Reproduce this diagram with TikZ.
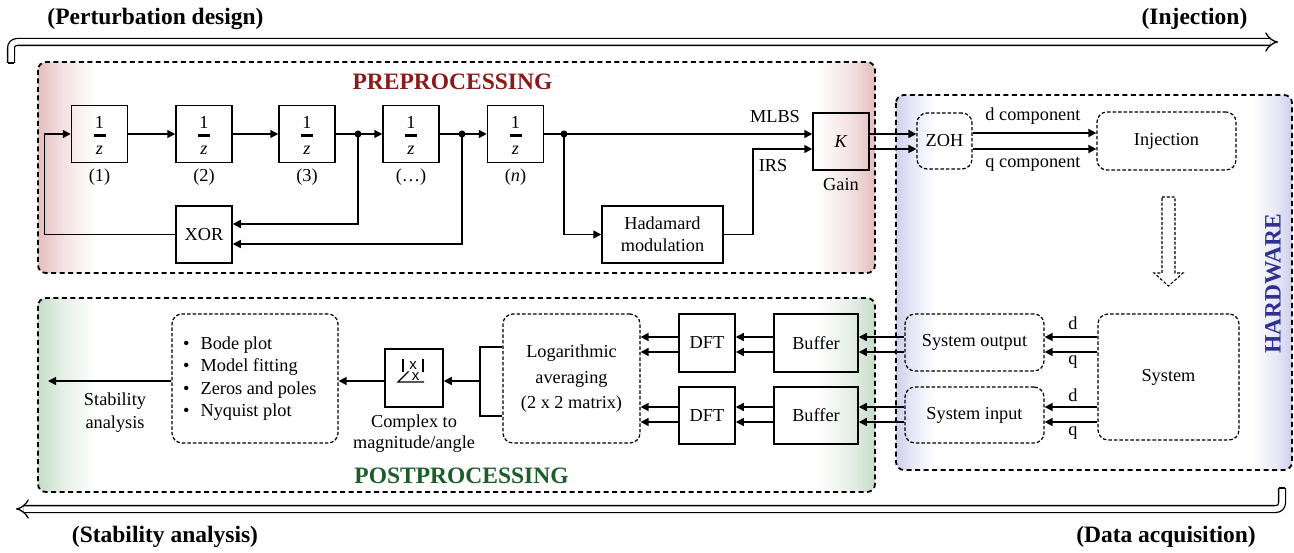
\documentclass[tikz,border=0pt]{standalone}
\usepackage{fontspec}
\setmainfont{Liberation Serif}
\newfontfamily\sansf{Liberation Sans}
\usetikzlibrary{arrows.meta}
\definecolor{prered}{HTML}{8B1A1A}
\definecolor{postgreen}{HTML}{1B5E2B}
\definecolor{hwblue}{HTML}{2E3192}
\definecolor{preE}{HTML}{E6BDBD}
\definecolor{postE}{HTML}{C6DCC8}
\definecolor{hwE}{HTML}{CFCFEC}
\pgfdeclarehorizontalshading{preglow}{100bp}{color(0bp)=(preE); color(25bp)=(preE); color(26.5bp)=(preE!45); color(28.5bp)=(white); color(71.5bp)=(white); color(73.5bp)=(preE!45); color(75bp)=(preE); color(100bp)=(preE)}
\pgfdeclarehorizontalshading{postglow}{100bp}{color(0bp)=(postE); color(25bp)=(postE); color(26.5bp)=(postE!45); color(28.5bp)=(white); color(71.5bp)=(white); color(73.5bp)=(postE!45); color(75bp)=(postE); color(100bp)=(postE)}
\pgfdeclarehorizontalshading{hwglow}{100bp}{color(0bp)=(hwE); color(25bp)=(hwE); color(27bp)=(hwE!50); color(30bp)=(white); color(70bp)=(white); color(73bp)=(hwE!50); color(75bp)=(hwE); color(100bp)=(hwE)}
\newcommand{\delaybox}[3]{%
  \node[blk] (#1) at (#2,134) {};
  \node (#1one) at ([yshift=12pt]#1.center) {1};
  \draw[line width=3pt] ([xshift=-6pt,yshift=-2pt]#1.center) -- ([xshift=6pt,yshift=-2pt]#1.center);
  \node (#1z) at ([yshift=-16pt]#1.center) {\textit{z}};
  \node (#1lab) at (#2,177) {#3};
}
\begin{document}
\begin{tikzpicture}[x=1pt,y=-1pt,
  font=\fontsize{18.3}{21}\selectfont,
  blk/.style={draw, line width=1.5pt, minimum width=56pt, minimum height=57pt, inner sep=0pt},
  dbox/.style={draw, line width=1.2pt, dash pattern=on 3.5pt off 2pt, rounded corners=10pt, inner sep=0pt},
  group/.style={draw, line width=1.8pt, dash pattern=on 5pt off 3.5pt, rounded corners=8pt},
  conn/.style={line width=1.5pt, -{Triangle[length=8pt,width=8pt]}},
  plain/.style={line width=1.5pt},
  dbl/.style={double, double distance=5.5pt, line width=1.3pt, rounded corners=6pt, -{Implies}},
  head/.style={font=\fontsize{23.5}{26}\selectfont\bfseries},
  dot/.style={circle, fill, inner sep=0pt, minimum size=7pt},
  icon/.style={font=\sansf\fontsize{15}{11}\selectfont, inner sep=0pt, align=center}
]
\useasboundingbox (0,0) rectangle (1294,553);

% ---------- phase arrows ----------
\draw[dbl] (11,63) -- (11,42) -- (1278,42);
\draw[line width=1.3pt] (7.6,63) -- (14.4,63);
\draw[dbl] (1282,488) -- (1282,509) -- (16,509);
\draw[line width=1.3pt] (1278.6,488) -- (1285.4,488);
\node[head] (tpert) at (155.5,19) {(Perturbation design)};
\node[head] (tinj) at (1194.5,19) {(Injection)};
\node[head] (tstab) at (165,537) {(Stability analysis)};
\node[head] (tdaq) at (1166,537) {(Data acquisition)};

% ---------- groups ----------
\shade[shading=preglow, rounded corners=8pt] (38,62) rectangle (875,273);
\draw[group] (38,62) rectangle (875,273);
\shade[shading=postglow, rounded corners=8pt] (38,298) rectangle (875,492);
\draw[group] (38,298) rectangle (875,492);
\shade[shading=hwglow, rounded corners=8pt] (896,95) rectangle (1292,470);
\draw[group] (896,95) rectangle (1292,470);
\node[head, text=prered] (tpre) at (452.5,82) {PREPROCESSING};
\node[head, text=postgreen] (tpost) at (461.5,476) {POSTPROCESSING};
\node[head, text=hwblue, rotate=90] (thw) at (1273,284) {HARDWARE};

% ---------- preprocessing ----------
\delaybox{d1}{99.5}{(1)}
\delaybox{d2}{204}{(2)}
\delaybox{d3}{307}{(3)}
\delaybox{d4}{411}{(\dots)}
\delaybox{dn}{515.5}{(\textit{n})}
\node[blk] (xor) at (204,234.5) {XOR};
\node[blk, minimum width=121pt, align=center, font=\fontsize{18.3}{22}\selectfont] (had) at (662.5,234.5) {Hadamard\\modulation};
\node[blk] (gain) at (841,141.5) {\textit{K}};
\node (gainlab) at (841,185) {Gain};

\coordinate (j1) at (358,134);
\coordinate (j2) at (462,134);
\coordinate (j3) at (564,134);

\draw[conn] (d1.east) -- (d2.west);
\draw[conn] (d2.east) -- (d3.west);
\draw[conn] (d3.east) -- (d4.west);
\draw[conn] (d4.east) -- (dn.west);
\draw[conn] (j1) |- ([yshift=10.5pt]xor.east);
\draw[conn] (j2) |- ([yshift=-9.5pt]xor.east);
\draw[conn] (xor.west) -- ++(-131,0) |- (d1.west);
\draw[conn] (dn.east) -- ([yshift=7.5pt]gain.west);
\draw[conn] (j3) |- (had.west);
\draw[conn] (had.east) -- ++(29,0) |- ([yshift=-7.5pt]gain.west);
\node[dot] (dj1) at (j1) {};
\node[dot] (dj2) at (j2) {};
\node[dot] (dj3) at (j3) {};
\node (mlbs) at (775,117) {MLBS};
\node (irs) at (773,166) {IRS};

% ---------- hardware ----------
\node[dbox, minimum width=55pt, minimum height=56pt] (zoh) at (944.5,141) {ZOH};
\node[dbox, minimum width=139pt, minimum height=58pt] (inj) at (1166.5,141) {Injection};
\draw[conn] ([yshift=7.5pt]gain.east) -- ([yshift=7.5pt]gain.east -| zoh.west);
\draw[conn] ([yshift=-7.5pt]gain.east) -- ([yshift=-7.5pt]gain.east -| zoh.west);
\draw[conn] (zoh.east |- 0,133) -- (inj.west |- 0,133);
\draw[conn] (zoh.east |- 0,149) -- (inj.west |- 0,149);
\node (dcomp) at (1033,116) {d component};
\node (qcomp) at (1033,164) {q component};
\draw[line width=1.1pt, dash pattern=on 3pt off 1.8pt, line join=miter]
  (1162,197) -- (1175,197) -- (1175,273) -- (1183,273) -- (1168.5,286) -- (1154,273) -- (1162,273) -- cycle;

\node[dbox, minimum width=141pt, minimum height=126pt] (sys) at (1168.5,377) {System};
\node[dbox, minimum width=139pt, minimum height=57pt] (sout) at (974.5,342.5) {System output};
\node[dbox, minimum width=139pt, minimum height=56pt] (sin) at (974.5,415) {System input};
\draw[conn] (sys.west |- 0,337) -- (sout.east |- 0,337);
\draw[conn] (sys.west |- 0,352) -- (sout.east |- 0,352);
\draw[conn] (sys.west |- 0,407) -- (sin.east |- 0,407);
\draw[conn] (sys.west |- 0,422) -- (sin.east |- 0,422);
\node (ld1) at (1073,323) {d};
\node (lq1) at (1073,362) {q};
\node (ld2) at (1073,395) {d};
\node (lq2) at (1073,433) {q};

% ---------- postprocessing ----------
\node[blk, minimum width=84pt, minimum height=58pt] (buf1) at (816,343) {Buffer};
\node[blk, minimum width=84pt, minimum height=57pt] (buf2) at (816,415.5) {Buffer};
\node[blk, minimum height=58pt] (dft1) at (707,343) {DFT};
\node[blk, minimum height=57pt] (dft2) at (707,415.5) {DFT};
\node[dbox, minimum width=137pt, minimum height=129pt] (log) at (571.5,378.5) {};
\node[align=center, font=\fontsize{18.3}{25.5}\selectfont] (logt) at (571.5,379) {Logarithmic\\averaging\\(2 x 2 matrix)};

\draw[conn] (sout.west |- 0,337) -- (buf1.east |- 0,337);
\draw[conn] (sout.west |- 0,352) -- (buf1.east |- 0,352);
\draw[conn] (sin.west |- 0,407) -- (buf2.east |- 0,407);
\draw[conn] (sin.west |- 0,422) -- (buf2.east |- 0,422);
\draw[conn] (buf1.west |- 0,337) -- (dft1.east |- 0,337);
\draw[conn] (buf1.west |- 0,352) -- (dft1.east |- 0,352);
\draw[conn] (buf2.west |- 0,407) -- (dft2.east |- 0,407);
\draw[conn] (buf2.west |- 0,422) -- (dft2.east |- 0,422);
\draw[conn] (dft1.west |- 0,337) -- (log.east |- 0,337);
\draw[conn] (dft1.west |- 0,352) -- (log.east |- 0,352);
\draw[conn] (dft2.west |- 0,407) -- (log.east |- 0,407);
\draw[conn] (dft2.west |- 0,422) -- (log.east |- 0,422);

\coordinate (brk) at (480,381);
\draw[line width=2.4pt] (log.west |- 0,347) -- (brk |- 0,347) -- (brk |- 0,416) -- (log.west |- 0,416);

\node[blk, minimum width=58pt, minimum height=58pt] (cplx) at (414,378) {};
\draw[line width=2.4pt] (403,359) -- (403,372) (423,359) -- (423,372);
\node[icon] (cxs) at (413,371) {x\\\hspace*{5pt}x};
\draw[line width=1.3pt] (408.5,371.5) -- (398,382) -- (424,382);
\node[align=center, font=\fontsize{18.3}{21.5}\selectfont] (cplxlab) at (414,433.5) {Complex to\\magnitude/angle};
\draw[conn] (brk) -- (brk -| cplx.east);

\node[dbox, minimum width=166pt, minimum height=129pt] (bul) at (255,378.5) {};
\node[anchor=west, inner sep=0pt, font=\fontsize{18.3}{22.3}\selectfont] (bult) at (183,378.5)
  {\begin{tabular}{@{}l@{\hspace{11pt}}l@{}}\textbullet & Bode plot\\ \textbullet & Model fitting\\ \textbullet & Zeros and poles\\ \textbullet & Nyquist plot\end{tabular}};
\draw[conn] (cplx.west |- brk) -- (bul.east |- brk);
\coordinate (stabend) at (48,381);
\draw[conn] (bul.west |- brk) -- (stabend);
\node[align=center, font=\fontsize{18.3}{22.5}\selectfont] (stablab) at (115,412.5) {Stability\\analysis};
\end{tikzpicture}
\end{document}
